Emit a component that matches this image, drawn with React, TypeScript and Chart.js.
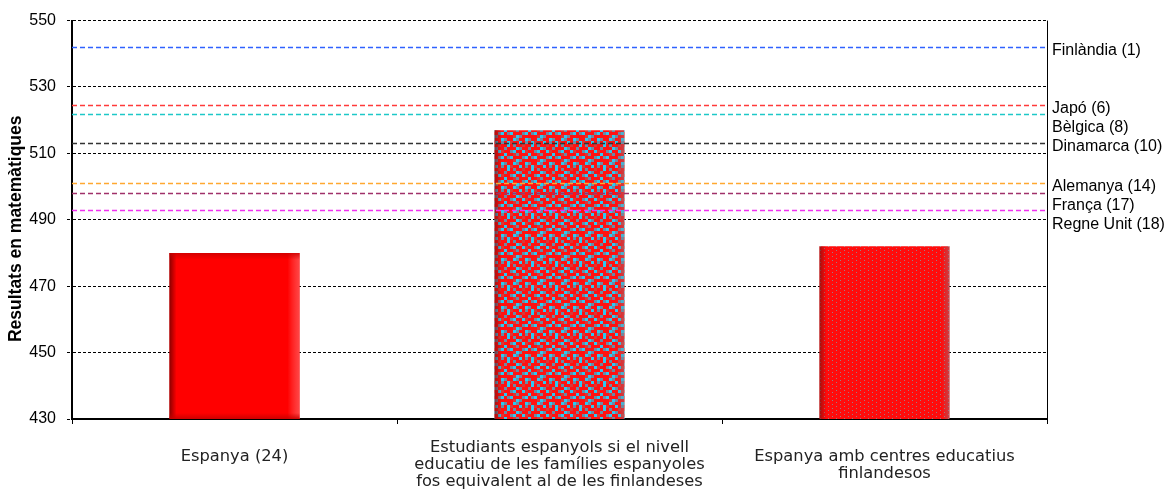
import { useEffect, useRef } from "react";
import { Chart, registerables } from "chart.js";
Chart.register(...registerables);

const categories: string[][] = [
  ["Espanya (24)", ""],
  ["Estudiants espanyols si el nivell", "educatiu de les famílies espanyoles", "fos equivalent al de les finlandeses"],
  ["Espanya amb centres educatius", "finlandesos"],
];
const scores = [480, 517, 482];
const refCountries = ["Finlàndia (1)", "Japó (6)", "Bèlgica (8)", "Dinamarca (10)", "Alemanya (14)", "França (17)", "Regne Unit (18)"];
const refScores = [542, 524.5, 522, 513, 501, 498, 493];
const refColors = ["#2f62ff", "#ff3a3a", "#1ec8c8", "#333333", "#ffa830", "#a0306a", "#f030f0"];
const yMin = 430;
const yMax = 550;
const yStep = 20;
const yTitle = "Resultats en matemàtiques";

function makePattern(rows: string[], palette: Record<string, string>, cw: number, ch: number) {
  const c = document.createElement("canvas");
  c.width = rows[0].length * cw;
  c.height = rows.length * ch;
  const g = c.getContext("2d")!;
  rows.forEach((row, j) =>
    row.split("").forEach((k, i) => {
      g.fillStyle = palette[k];
      g.fillRect(i * cw, j * ch, cw, ch);
    })
  );
  return g.createPattern(c, "repeat")!;
}

export default function App() {
  const ref = useRef<HTMLCanvasElement>(null);
  useEffect(() => {
    const canvas = ref.current!;
    const pat2 = makePattern(
      ["rcrbrrdr", "brrrcbrr", "rrbcrrcd", "crrdbrrr", "rbcrrrbc", "rrrdcbrr", "brrcbrrc", "rcdrrcrb"],
      { r: "#ff1212", c: "#2ec8f0", b: "#6a8aa4", d: "#d83838" },
      3,
      3
    );
    const pat3 = makePattern(
      ["grrrrrrr", "rrrrrrrr", "rrrrgrrr", "rrrrrrrr"],
      { r: "#ff0c0c", g: "#a07a80" },
      1,
      1
    );

    const decor = {
      id: "decor",
      afterDatasetsDraw(chart: any) {
        const ctx = chart.ctx;
        const area = chart.chartArea;
        const meta = chart.getDatasetMeta(0);
        ctx.save();
        ctx.beginPath();
        ctx.rect(area.left, area.top, area.right - area.left, area.bottom - area.top);
        ctx.clip();
        meta.data.forEach((el: any, i: number) => {
          const { x, y, width, base } = el.getProps(["x", "y", "width", "base"], true);
          const l = x - width / 2;
          const r = x + width / 2;
          const b = Math.min(base, area.bottom);
          const h = b - y;
          let g = ctx.createLinearGradient(l, 0, l + 7, 0);
          g.addColorStop(0, i === 0 ? "rgba(140,0,0,1)" : "rgba(120,20,20,0.7)");
          g.addColorStop(1, "rgba(140,0,0,0)");
          ctx.fillStyle = g;
          ctx.fillRect(l, y, 7, h);
          if (i === 0) {
            g = ctx.createLinearGradient(r - 12, 0, r, 0);
            g.addColorStop(0, "rgba(255,90,90,0)");
            g.addColorStop(1, "rgba(255,70,70,1)");
            ctx.fillStyle = g;
            ctx.fillRect(r - 12, y, 12, h);
            g = ctx.createLinearGradient(0, y, 0, y + 7);
            g.addColorStop(0, "rgba(200,0,0,0.8)");
            g.addColorStop(1, "rgba(200,0,0,0)");
            ctx.fillStyle = g;
            ctx.fillRect(l, y, width, 7);
            g = ctx.createLinearGradient(0, b - 6, 0, b);
            g.addColorStop(0, "rgba(200,0,0,0)");
            g.addColorStop(1, "rgba(200,0,0,0.9)");
            ctx.fillStyle = g;
            ctx.fillRect(l, b - 6, width, 6);
          } else {
            g = ctx.createLinearGradient(r - 8, 0, r, 0);
            g.addColorStop(0, "rgba(130,130,140,0)");
            g.addColorStop(1, "rgba(130,130,140,0.45)");
            ctx.fillStyle = g;
            ctx.fillRect(r - 8, y, 8, h);
          }
        });
        ctx.restore();
        // reference lines
        const ys = chart.scales.y;
        ctx.save();
        ctx.lineWidth = 1.3;
        ctx.setLineDash([5, 3]);
        refScores.forEach((v, i) => {
          const py = Math.round(ys.getPixelForValue(v)) + 0.5;
          ctx.strokeStyle = refColors[i];
          ctx.beginPath();
          ctx.moveTo(area.left, py);
          ctx.lineTo(area.right, py);
          ctx.stroke();
        });
        ctx.restore();
      },
      afterDraw(chart: any) {
        const ctx = chart.ctx;
        const ys = chart.scales.y;
        const area = chart.chartArea;
        ctx.save();
        ctx.strokeStyle = "#000";
        ctx.lineWidth = 1;
        ctx.beginPath();
        ctx.moveTo(Math.round(area.right) + 0.5, area.top);
        ctx.lineTo(Math.round(area.right) + 0.5, area.bottom + 5);
        ctx.stroke();
        ctx.font = "16px 'Liberation Sans', Arial, sans-serif";
        ctx.fillStyle = "#000";
        ctx.textBaseline = "middle";
        ctx.textAlign = "left";
        let prev = -Infinity;
        refCountries.forEach((name, i) => {
          const ly = Math.max(ys.getPixelForValue(refScores[i]) + 3, prev + 19);
          prev = ly;
          ctx.fillText(name, area.right + 5, ly);
        });
        // y axis title
        ctx.save();
        ctx.translate(16, (area.top + area.bottom) / 2 + 9);
        ctx.rotate(-Math.PI / 2);
        ctx.font = "bold 17.5px 'Liberation Sans', Arial, sans-serif";
        ctx.textAlign = "center";
        ctx.textBaseline = "middle";
        ctx.fillText(yTitle, 0, 0);
        ctx.restore();
        ctx.restore();
      },
    };

    const chart = new Chart(canvas, {
      type: "bar",
      data: {
        labels: categories,
        datasets: [
          {
            data: scores,
            backgroundColor: ["#ff0000", pat2, pat3],
            borderWidth: 0,
            barPercentage: 0.4,
            categoryPercentage: 1,
          },
        ],
      },
      options: {
        responsive: false,
        animation: false,
        devicePixelRatio: 1,
        layout: { padding: { top: 17, right: 119, bottom: 0, left: 0 } },
        plugins: { legend: { display: false }, tooltip: { enabled: false } },
        scales: {
          x: {
            grid: { display: true, drawOnChartArea: false, drawTicks: true, tickLength: 5, tickColor: "#000", offset: true },
            border: { color: "#000", width: 2 },
            ticks: {
              font: { family: "'DejaVu Sans', Verdana, sans-serif", size: 16.3, lineHeight: 17 / 16.3 },
              color: "#222",
              padding: 24,
              crossAlign: "center",
              maxRotation: 0,
              autoSkip: false,
            },
            afterFit: (s: any) => {
              s.height = 75;
            },
          },
          y: {
            min: yMin,
            max: yMax,
            ticks: {
              stepSize: yStep,
              font: { family: "'Liberation Sans', Arial, sans-serif", size: 16 },
              color: "#000",
              padding: 11,
            },
            grid: { color: "#000", lineWidth: 1, tickColor: "#000", tickLength: 5, tickBorderDash: [3, 2] },
            border: { color: "#000", width: 2, dash: [3, 2] },
            title: { display: false, text: yTitle },
            afterFit: (s: any) => {
              s.width = 72;
            },
          },
        },
      },
      plugins: [decor],
    } as any);
    return () => chart.destroy();
  }, []);
  return (
    <div style={{ position: "absolute", left: 0, top: 0, width: 1166, height: 494, background: "#fff" }}>
      <canvas ref={ref} width={1166} height={494} style={{ display: "block" }} />
    </div>
  );
}
